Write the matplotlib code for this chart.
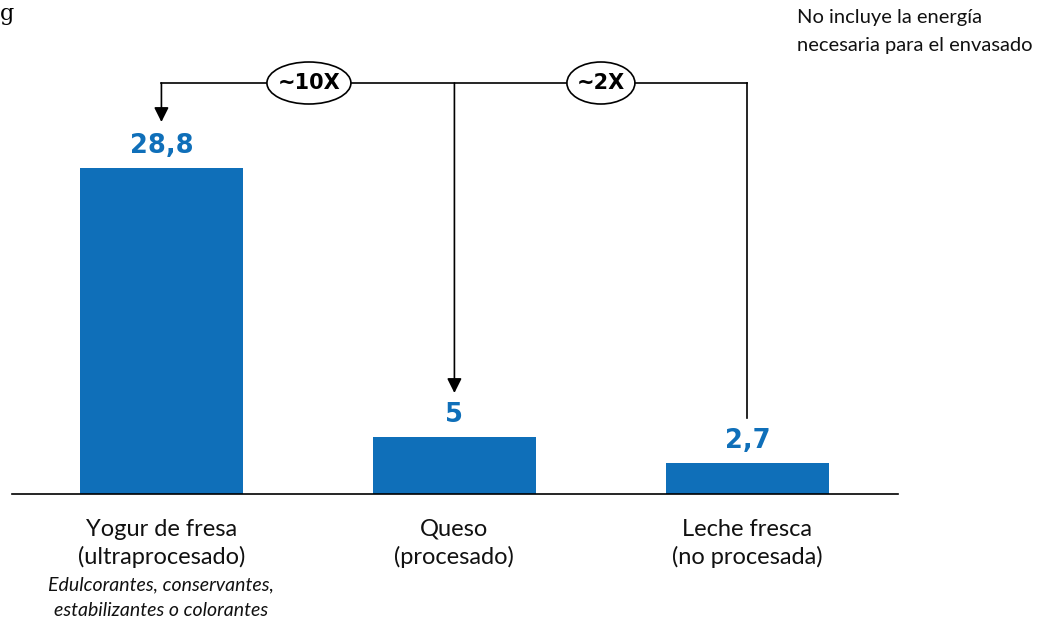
import matplotlib.pyplot as plt
from matplotlib.patches import Ellipse

# data
categories = ['Yogur de fresa\n(ultraprocesado)', 'Queso\n(procesado)', 'Leche fresca\n(no procesada)']
values = [28.8, 5, 2.7]
value_labels = ['28,8', '5', '2,7']
notes = ['Edulcorantes, conservantes,\nestabilizantes o colorantes', '', '']
ratios = ['~10X', '~2X']

blue = '#0f6fb9'
text_col = '#111111'

fig = plt.figure(figsize=(10.46, 6.25), dpi=100)
# axes spans x 12..898 px and y 0..494 px of the figure
ax = fig.add_axes([12 / 1046, 131 / 625, 886 / 1046, 494 / 625])
px_per_unit = 326 / 28.8
ax.set_xlim(-0.510, 2.514)
ax.set_ylim(0, 494 / px_per_unit)

x = list(range(len(values)))
ax.bar(x, values, width=0.556, color=blue, zorder=2)

for s in ['top', 'right', 'left']:
    ax.spines[s].set_visible(False)
ax.spines['bottom'].set_linewidth(1.2)
ax.set_xticks([])
ax.set_yticks([])


def py(p):
    # figure pixel row -> data y
    return (494 - p) / px_per_unit


# value labels
for xi, v, lab in zip(x, values, value_labels):
    ax.text(xi, v + 22 / px_per_unit, lab, ha='center', va='center', color=blue,
            fontsize=18.5, fontweight='bold', family='DejaVu Sans')

# category labels and notes, one line at a time
for xi, cat, note in zip(x, categories, notes):
    for i, line in enumerate(cat.split('\n')):
        ax.text(xi, py(529 + 28 * i), line, ha='center', va='center',
                fontsize=17, family='Lato', color=text_col)
    if note:
        for i, line in enumerate(note.split('\n')):
            ax.text(xi, py(585 + 26 * i), line, ha='center', va='center',
                    fontsize=14, family='Lato', style='italic', color=text_col)

# comparison connectors
yline = py(83)
lw = 1.2
ax.plot([x[0], x[2]], [yline, yline], color='black', lw=lw, zorder=1)
for xi, tip in [(x[0], 122), (x[1], 393)]:
    ax.annotate('', xy=(xi, py(tip)), xytext=(xi, yline),
                arrowprops=dict(arrowstyle='-|>', color='black', lw=lw,
                                mutation_scale=22, shrinkA=0, shrinkB=0))
ax.plot([x[2], x[2]], [yline, py(418)], color='black', lw=lw)

# ellipses with ratios
for cx_px, w_px, txt in [(309, 84, ratios[0]), (601, 68, ratios[1])]:
    cx = (cx_px - 161.5) / 293
    e = Ellipse((cx, yline), w_px / 293, 42 / px_per_unit, facecolor='white',
                edgecolor='black', lw=1.2, zorder=3)
    ax.add_patch(e)
    ax.text(cx, yline, txt, ha='center', va='center', fontsize=15,
            fontweight='bold', family='DejaVu Sans', zorder=4)

# top texts
fig.text(0, 1 - 14 / 625, 'g', ha='left', va='center', fontsize=16,
         family='DejaVu Serif')
for i, line in enumerate(['No incluye la energía', 'necesaria para el envasado']):
    fig.text(797 / 1046, 1 - (18 + 28 * i) / 625, line, ha='left', va='center',
             fontsize=14.5, family='Lato', color=text_col)

fig.savefig('out.png', dpi=100)
